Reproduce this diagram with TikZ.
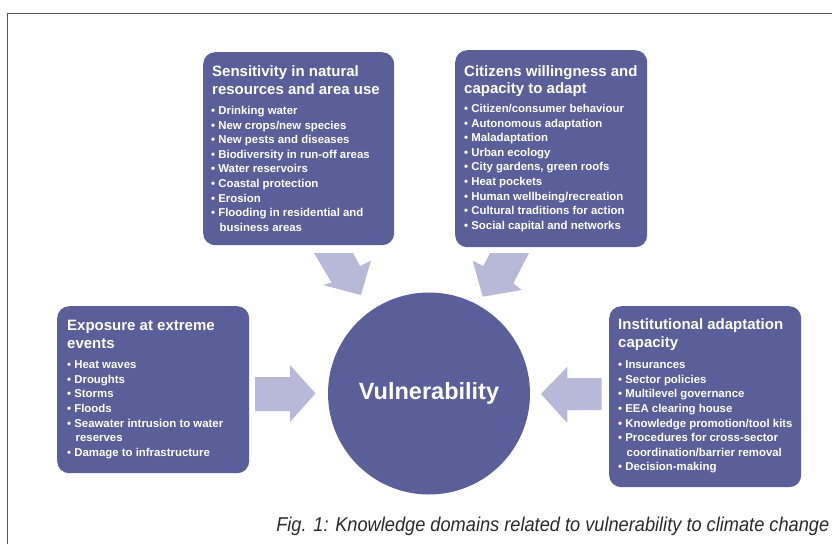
\documentclass[tikz,border=0pt]{standalone}
\usepackage{graphicx}
\usepackage{fontspec}
\setmainfont{Liberation Sans}
\definecolor{panel}{HTML}{5A5E99}
\definecolor{pointerfill}{HTML}{B8B8D8}
\definecolor{frameline}{HTML}{555555}
\definecolor{captiongray}{HTML}{2A2A2A}
\begin{document}
\begin{tikzpicture}[x=1pt,y=-1pt,
  panelbox/.style={fill=panel, rounded corners=12pt, inner sep=0pt, anchor=north west},
  heading/.style={text=white, anchor=north west, inner sep=0pt, align=left,
    font=\bfseries\fontsize{15}{17.5}\selectfont},
  itemlist/.style={text=white, anchor=north west, inner sep=0pt, align=left,
    font=\bfseries\fontsize{11.4}{14.6}\selectfont},
  pointer/.style={fill=pointerfill, draw=none}]
\useasboundingbox (0,0) rectangle (832,544);

% frame (left and top edges)
\coordinate (fa) at (7,544);
\coordinate (fb) at (7,13);
\coordinate (fc) at (832,13);
\draw[frameline, line width=0.9pt] (fa) -- (fb) -- (fc);

% the four knowledge domains
\node[panelbox, minimum width=191pt, minimum height=193pt] (sens) at (203,52) {};
\node[panelbox, minimum width=192pt, minimum height=197pt] (citz) at (455,50) {};
\node[panelbox, minimum width=192pt, minimum height=167pt] (expo) at (57,306) {};
\node[panelbox, minimum width=192pt, minimum height=181pt] (inst) at (609,306) {};

% central circle
\node[circle, fill=panel, minimum size=202pt, inner sep=0pt, text=white,
      font=\bfseries\fontsize{23.5}{28}\selectfont] (vuln) at (429,393.5) {Vulnerability};

% texts of the domains
\node[heading] (sensT) at (212,64.5) {\rule{0pt}{12pt}Sensitivity in natural\\resources and area use};
\node[itemlist] (sensL) at (211,105.3) {\rule{0pt}{9pt}• Drinking water\\
• New crops/new species\\
• New pests and diseases\\
• Biodiversity in run-off areas\\
• Water reservoirs\\
• Coastal protection\\
• Erosion\\
• Flooding in residential and\\
\hspace*{8.5pt}business areas};

\node[heading] (citzT) at (464,64) {\rule{0pt}{12pt}Citizens willingness and\\capacity to adapt};
\node[itemlist] (citzL) at (464,103.3) {\rule{0pt}{9pt}• Citizen/consumer behaviour\\
• Autonomous adaptation\\
• Maladaptation\\
• Urban ecology\\
• City gardens, green roofs\\
• Heat pockets\\
• Human wellbeing/recreation\\
• Cultural traditions for action\\
• Social capital and networks};

\node[heading] (expoT) at (67,318.5) {\rule{0pt}{12pt}Exposure at extreme\\events};
\node[itemlist] (expoL) at (67,359.5) {\rule{0pt}{9pt}• Heat waves\\
• Droughts\\
• Storms\\
• Floods\\
• Seawater intrusion to water\\
\hspace*{8.5pt}reserves\\
• Damage to infrastructure};

\node[heading] (instT) at (618,317.5) {\rule{0pt}{12pt}Institutional adaptation\\capacity};
\node[itemlist] (instL) at (618,359.5) {\rule{0pt}{9pt}• Insurances\\
• Sector policies\\
• Multilevel governance\\
• EEA clearing house\\
• Knowledge promotion/tool kits\\
• Procedures for cross-sector\\
\hspace*{8.5pt}coordination/barrier removal\\
• Decision-making};

% block arrows pointing at the circle
\fill[pointer] (314,253) -- (353,253) -- (360,266) -- (371,260.5) -- (361,295)
  -- (323,285) -- (331.5,282.5) -- cycle;
\fill[pointer] (490,253) -- (529,253) -- (513.3,283.3) -- (521.7,290) -- (482.7,296.7)
  -- (472.7,260.7) -- (483.3,266) -- cycle;
\fill[pointer] (255,377) -- (290,377) -- (290,365) -- (315.5,393.5) -- (290,422)
  -- (290,411) -- (255,411) -- cycle;
\fill[pointer] (601.7,378) -- (567.3,378) -- (567.3,366.7) -- (541,394) -- (567.3,423)
  -- (567.3,410) -- (601.7,410) -- cycle;

% caption
\node[anchor=base east, inner sep=0pt, text=captiongray] (cap) at (829.5,531.5)
  {\resizebox{553pt}{14.5pt}{\itshape Fig. 1: Knowledge domains related to vulnerability to climate change}};
\end{tikzpicture}
\end{document}
